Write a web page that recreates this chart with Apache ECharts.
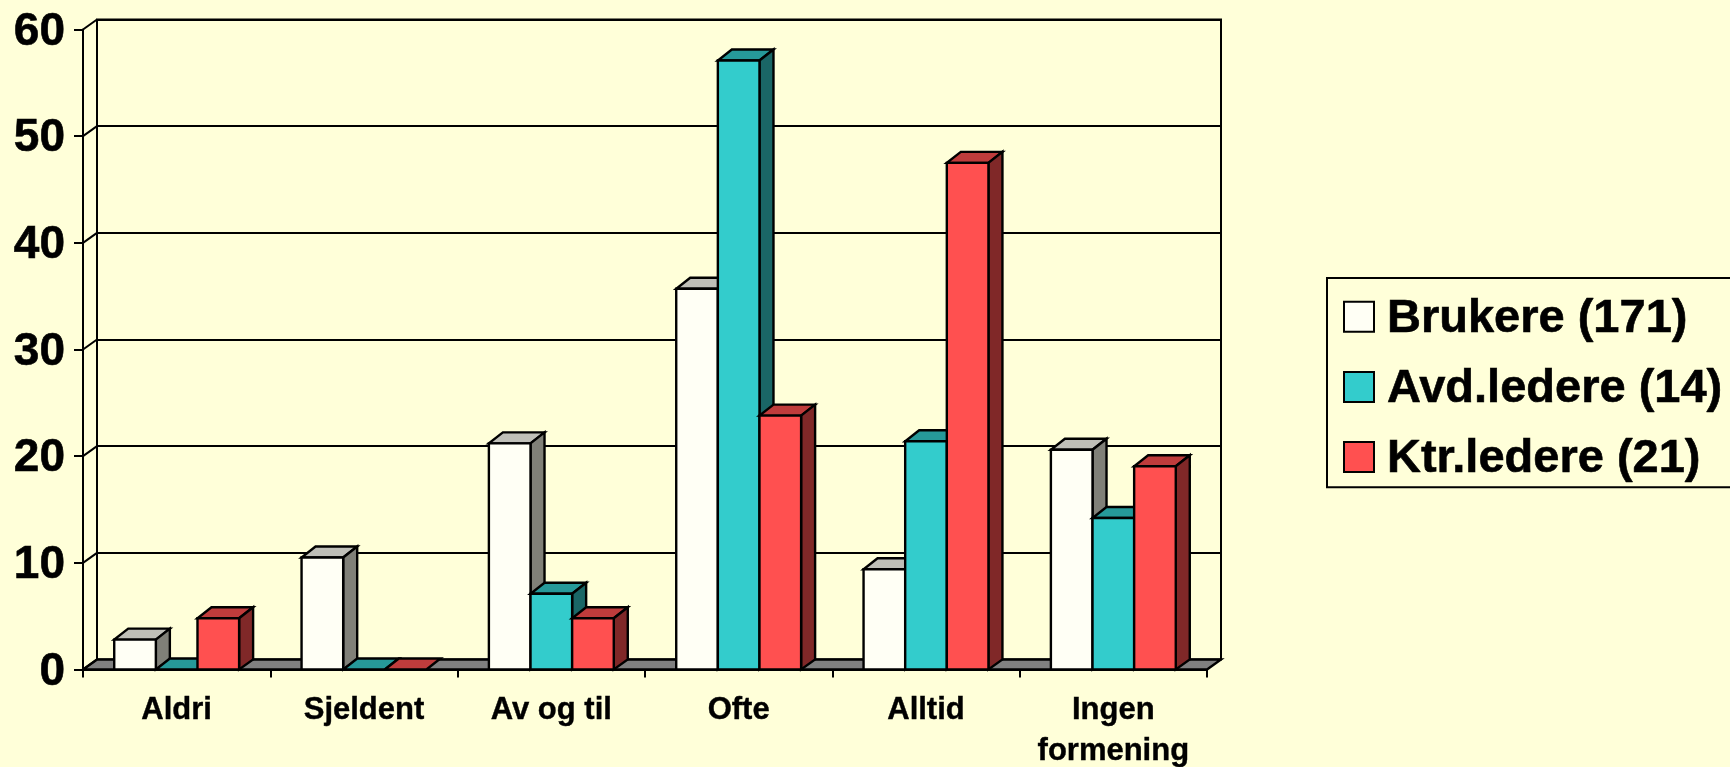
<!DOCTYPE html>
<html>
<head>
<meta charset="utf-8">
<style>html,body{margin:0;padding:0;background:#FFFFD9;overflow:hidden}#c{width:1730px;height:767px}</style>
<script src="https://cdn.jsdelivr.net/npm/echarts@6/dist/echarts.min.js"></script>
</head>
<body>
<div id="c"></div>
<script>
const categories = ['Aldri', 'Sjeldent', 'Av og til', 'Ofte', 'Alltid', 'Ingen\nformening'];
const yTicks = [0, 10, 20, 30, 40, 50, 60];
const brukere = [2.8, 10.5, 21.2, 35.7, 9.4, 20.6];
const avdLedere = [0, 0, 7.1, 57.1, 21.4, 14.2];
const ktrLedere = [4.8, 0, 4.8, 23.8, 47.5, 19.05];
const seriesNames = ['Brukere (171)', 'Avd.ledere (14)', 'Ktr.ledere (21)'];
const faceColors = ['#FFFFF5', '#33CCCC', '#FF5050'];
const topColors = ['#BFBFB8', '#269999', '#BF3C3C'];
const sideColors = ['#808078', '#1A6666', '#802828'];

const FONT = '"Liberation Sans", Arial, sans-serif';
const DX = 14, DY = 10, BAR_DY = 11;
const stroke = {stroke: '#000', lineWidth: 2.4, lineJoin: 'miter'};

function barRender(seriesIdx) {
  return function (params, api) {
    const band = api.size([1, 0])[0];
    const w = band / 4.5;
    const base = api.coord([api.value(0), 0]);
    const top = api.coord([api.value(0), api.value(1)]);
    const x0 = base[0] + (seriesIdx - 1.5) * w;
    const x1 = x0 + w;
    const y0 = base[1], y1 = top[1];
    const children = [];
    children.push({type: 'polygon', shape: {points: [[x0, y1], [x1, y1], [x1 + DX, y1 - BAR_DY], [x0 + DX, y1 - BAR_DY]]},
      style: Object.assign({fill: topColors[seriesIdx]}, stroke)});
    if (y0 - y1 > 0.5) {
      children.push({type: 'polygon', shape: {points: [[x1, y1], [x1 + DX, y1 - BAR_DY], [x1 + DX, y0 - DY], [x1, y0]]},
        style: Object.assign({fill: sideColors[seriesIdx]}, stroke)});
      children.push({type: 'rect', shape: {x: x0, y: y1, width: w, height: y0 - y1},
        style: Object.assign({fill: faceColors[seriesIdx]}, stroke)});
    }
    return {type: 'group', children};
  };
}

function barSeries(name, values, i) {
  return {
    name, type: 'custom', xAxisIndex: 0, yAxisIndex: 0, z: 10 + i,
    coordinateSystem: 'cartesian2d',
    itemStyle: {color: faceColors[i]},
    encode: {x: 0, y: 1},
    clip: false, silent: true,
    data: values.map((v, k) => [k, v]),
    renderItem: barRender(i)
  };
}

const option = {
  animation: false,
  backgroundColor: '#FFFFD9',
  textStyle: {fontFamily: FONT},
  grid: [
    {left: 83, top: 29.5, width: 1124, height: 640, containLabel: false, outerBoundsMode: 'none'},
    {left: 97, top: 19.5, width: 1124, height: 640, show: true, borderColor: '#000', borderWidth: 2, backgroundColor: 'transparent', outerBoundsMode: 'none'},
    {left: 83, top: 32, width: 1124, height: 640, containLabel: false, outerBoundsMode: 'none'}
  ],
  xAxis: [
    {type: 'category', gridIndex: 0, data: categories, boundaryGap: true,
      axisLine: {lineStyle: {color: '#000', width: 2}},
      axisTick: {show: true, length: 8, lineStyle: {color: '#000', width: 2}},
      axisLabel: {show: true, interval: 0, color: '#000', fontFamily: FONT, fontWeight: 'bold', fontSize: 31, lineHeight: 41, margin: 20, textBorderColor: '#000', textBorderWidth: 0.4}},
    {type: 'category', gridIndex: 1, data: categories, show: false},
    {type: 'category', gridIndex: 2, data: categories, show: false}
  ],
  yAxis: [
    {type: 'value', gridIndex: 0, min: 0, max: 60, interval: 10,
      splitLine: {show: false},
      axisLine: {show: true, lineStyle: {color: '#000', width: 2}},
      axisTick: {show: true, length: 9, lineStyle: {color: '#000', width: 2}},
      axisLabel: {show: false}},
    {type: 'value', gridIndex: 1, min: 0, max: 60, interval: 10,
      axisLine: {show: false}, axisTick: {show: false}, axisLabel: {show: false},
      splitLine: {show: true, lineStyle: {color: '#000', width: 2}}},
    {type: 'value', gridIndex: 2, min: 0, max: 60, interval: 10,
      splitLine: {show: false}, axisLine: {show: false}, axisTick: {show: false},
      axisLabel: {color: '#000', fontFamily: FONT, fontWeight: 'bold', fontSize: 46, margin: 18, textBorderColor: '#000', textBorderWidth: 0.6}}
  ],
  legend: {
    orient: 'vertical', left: 1327, top: 278,
    padding: [17.5, 16, 4, 16],
    itemWidth: 30, itemHeight: 30, itemGap: 22.5,
    backgroundColor: 'transparent', borderColor: '#000', borderWidth: 2, borderRadius: 0,
    icon: 'rect',
    formatter: '{t|{name}}',
    textStyle: {color: '#000', fontFamily: FONT, fontWeight: 'bold', fontSize: 47,
      rich: {t: {color: '#000', fontFamily: FONT, fontWeight: 'bold', fontSize: 47, padding: [5, 0, 0, 8], textBorderColor: '#000', textBorderWidth: 0.6}}},
    data: seriesNames.map((n, i) => ({name: n, icon: 'rect', itemStyle: {color: faceColors[i], borderColor: '#000', borderWidth: 2}}))
  },
  series: [
    {type: 'custom', name: 'floor', coordinateSystem: 'cartesian2d', xAxisIndex: 0, yAxisIndex: 0, z: 5, silent: true, clip: false,
      data: [[0, 0]], encode: {x: 0, y: 1},
      renderItem: function (params, api) {
        const band = api.size([1, 0])[0];
        const p = api.coord([0, 0]);
        const l = p[0] - band / 2, r = l + band * categories.length, y = p[1];
        return {type: 'polygon', shape: {points: [[l, y], [l + DX, y - DY], [r + DX, y - DY], [r, y]]},
          style: Object.assign({fill: '#808080'}, stroke)};
      }},
    {type: 'custom', name: 'wallTicks', coordinateSystem: 'cartesian2d', xAxisIndex: 0, yAxisIndex: 0, z: 5, silent: true, clip: false,
      data: yTicks.map(v => [0, v]), encode: {x: 0, y: 1},
      renderItem: function (params, api) {
        const band = api.size([1, 0])[0];
        const p = api.coord([0, api.value(1)]);
        const l = p[0] - band / 2, y = p[1];
        return {type: 'line', shape: {x1: l, y1: y, x2: l + DX, y2: y - DY}, style: {stroke: '#000', lineWidth: 2}};
      }},
    barSeries(seriesNames[0], brukere, 0),
    barSeries(seriesNames[1], avdLedere, 1),
    barSeries(seriesNames[2], ktrLedere, 2)
  ]
};
const chart = echarts.init(document.getElementById('c'), null, {renderer: 'canvas'});
chart.setOption(option);
</script>
</body>
</html>
